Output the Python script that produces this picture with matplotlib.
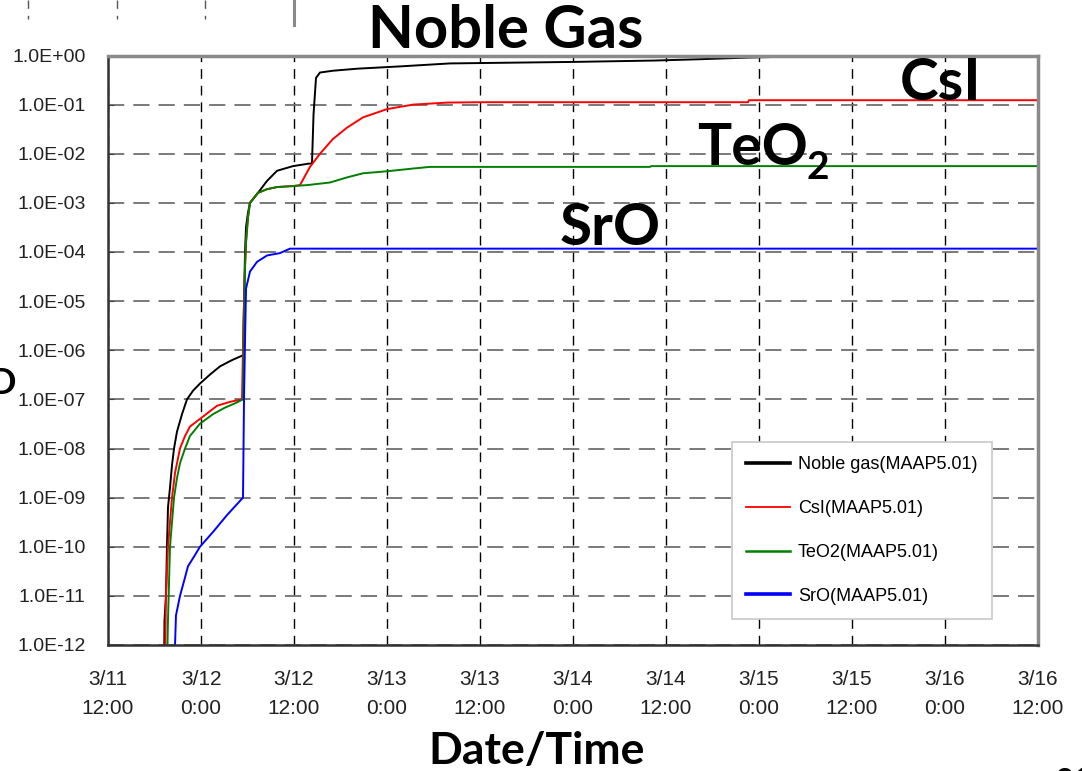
import matplotlib
matplotlib.use("Agg")
import matplotlib.pyplot as plt
import numpy as np
from matplotlib.lines import Line2D
from matplotlib.ticker import FixedLocator, FuncFormatter, NullLocator

# hours elapsed since 3/11 12:00
noble_t = [7.23, 7.29, 7.48, 7.61, 7.74, 8.0, 8.26, 8.52, 8.90, 9.55, 10.19, 10.97,
           11.87, 13.16, 14.45, 16.0, 17.42, 17.55, 17.68, 17.81, 18.06, 18.32, 19.35,
           20.52, 21.81, 23.87, 25.94, 26.32, 26.52, 26.84, 27.35, 29.03, 32.26, 37.68,
           44.13, 60.0, 70.58, 76.39, 82.84, 92.13]
noble_v = [3.2e-13, 3.2e-12, 1e-11, 1e-10, 6.3e-10, 1.6e-9, 4.6e-9, 1e-8, 2.2e-8, 5.0e-8,
           1.0e-7, 1.5e-7, 2.1e-7, 3.2e-7, 4.7e-7, 6.3e-7, 7.9e-7, 1e-5, 1e-4, 3.2e-4,
           6.3e-4, 1e-3, 1.6e-3, 2.8e-3, 4.5e-3, 5.6e-3, 6.3e-3, 6.3e-3, 6.3e-2, 0.35,
           0.45, 0.49, 0.54, 0.60, 0.69, 0.74, 0.79, 0.84, 0.91, 0.98]

csi_t = [7.35, 7.48, 7.74, 8.0, 8.26, 8.65, 9.29, 9.94, 10.58, 11.87, 14.06, 15.74,
         17.29, 17.48, 17.68, 17.81, 18.06, 18.32, 19.35, 20.52, 21.81, 23.87, 24.77,
         26.06, 27.35, 29.03, 30.84, 32.90, 36.0, 39.35, 43.74, 48.0, 82.58, 82.71, 120.0]
csi_v = [3.2e-13, 1e-11, 1e-10, 3.2e-10, 1e-9, 3.2e-9, 1e-8, 1.8e-8, 2.8e-8, 4.0e-8,
         7.4e-8, 8.9e-8, 1e-7, 3.2e-6, 5e-5, 1.6e-4, 5e-4, 1e-3, 1.6e-3, 1.9e-3, 2.1e-3,
         2.2e-3, 2.3e-3, 5.4e-3, 1e-2, 2e-2, 3.4e-2, 5.5e-2, 8.1e-2, 0.1, 0.11, 0.112,
         0.112, 0.123, 0.123]

teo2_t = [7.61, 7.74, 8.0, 8.26, 8.52, 8.90, 9.29, 9.94, 10.58, 11.87, 13.55, 15.10,
          16.39, 17.42, 17.55, 17.68, 17.81, 18.06, 18.32, 19.35, 20.52, 21.81, 23.87,
          25.68, 28.65, 30.84, 32.90, 36.0, 39.35, 41.55, 69.94, 70.06, 120.0]
teo2_v = [3.2e-13, 3.2e-12, 1e-10, 3.2e-10, 1e-9, 2.5e-9, 5e-9, 1e-8, 1.8e-8, 3.2e-8,
          5e-8, 6.8e-8, 8.3e-8, 1e-7, 3.2e-6, 5e-5, 1.6e-4, 5e-4, 1e-3, 1.6e-3, 1.9e-3,
          2.1e-3, 2.2e-3, 2.3e-3, 2.6e-3, 3.3e-3, 4.0e-3, 4.4e-3, 5.0e-3, 5.4e-3,
          5.4e-3, 5.6e-3, 5.6e-3]

sro_t = [8.52, 8.65, 8.77, 9.29, 9.81, 10.32, 11.10, 11.87, 13.55, 15.35, 17.42, 17.55,
         17.68, 17.81, 18.32, 19.23, 20.52, 22.19, 23.48, 120.0]
sro_v = [3.2e-13, 1e-12, 4e-12, 1e-11, 2e-11, 4e-11, 6.3e-11, 1e-10, 2e-10, 4.4e-10,
         1e-9, 1e-7, 1.6e-6, 1.8e-5, 4e-5, 6.3e-5, 8.5e-5, 9.5e-5, 1.17e-4, 1.17e-4]

tick_hours = [0, 12, 24, 36, 48, 60, 72, 84, 96, 108, 120]
tick_labels = ["3/11\n12:00", "3/12\n0:00", "3/12\n12:00", "3/13\n0:00", "3/13\n12:00",
               "3/14\n0:00", "3/14\n12:00", "3/15\n0:00", "3/15\n12:00", "3/16\n0:00",
               "3/16\n12:00"]
y_exponents = list(range(-12, 1))

W, H = 1082, 771
fig = plt.figure(figsize=(W / 100, H / 100), dpi=100)
ax = fig.add_axes([108 / W, 1 - 645 / H, 930 / W, (645 - 55.5) / H])

series = [
    (noble_t, noble_v, "#000000", "Noble gas(MAAP5.01)", 2.6),
    (csi_t, csi_v, "#ff0000", "CsI(MAAP5.01)", 1.3),
    (teo2_t, teo2_v, "#008000", "TeO2(MAAP5.01)", 1.8),
    (sro_t, sro_v, "#0000ff", "SrO(MAAP5.01)", 2.6),
]
for t, v, c, lab, _ in series:
    ax.plot(t, v, color=c, lw=1.4, label=lab, solid_joinstyle="miter")

ax.set_yscale("log")
ax.set_ylim(1e-12, 1.0)
ax.set_xlim(0, 120)

ax.yaxis.set_major_locator(FixedLocator([10.0 ** e for e in y_exponents]))
ax.yaxis.set_minor_locator(NullLocator())
ax.yaxis.set_major_formatter(FuncFormatter(lambda v, p: f"{v:.1E}"))
ax.set_xticks(tick_hours)
ax.set_xticklabels(tick_labels, linespacing=1.7)

ax.tick_params(axis="y", direction="in", length=4, pad=16, labelsize=14,
               labelcolor="#222222", color="#444444")
ax.tick_params(axis="x", direction="in", length=0, pad=18, labelsize=15,
               labelcolor="#222222")
for lbl in ax.get_xticklabels() + ax.get_yticklabels():
    lbl.set_fontfamily("Liberation Sans")

# vertical grid black, horizontal grid gray
ax.xaxis.grid(True, color="black", linestyle=(0, (7, 5)), lw=1.0)
ax.yaxis.grid(True, color="#6f6f6f", linestyle=(0, (9, 5)), lw=1.3)
ax.set_axisbelow(True)

ax.spines["left"].set_color("#333333")
ax.spines["bottom"].set_color("#333333")
ax.spines["left"].set_linewidth(1.8)
ax.spines["bottom"].set_linewidth(1.8)
ax.spines["top"].set_color("#8a8a8a")
ax.spines["right"].set_color("#8a8a8a")
ax.spines["top"].set_linewidth(2.5)
ax.spines["right"].set_linewidth(2.5)

leg = ax.legend(loc="upper left", bbox_to_anchor=(732 / W, 1 - 442 / H),
                bbox_transform=fig.transFigure,
                prop={"family": "Liberation Sans", "size": 13},
                labelspacing=1.48, handlelength=2.4, handletextpad=0.45,
                borderpad=0.8, borderaxespad=0, fancybox=False, framealpha=1,
                edgecolor="#c8c8c8")
leg.get_frame().set_linewidth(1.2)
for line, s in zip(leg.get_lines(), series):
    line.set_linewidth(s[4])

# annotations
bold = dict(family="Lato", weight="bold", color="black")
fig.text(506 / W, 1 - 48 / H, "Noble Gas", ha="center", va="baseline", fontsize=43, **bold)
fig.text(900 / W, 1 - 100 / H, "CsI", ha="left", va="baseline", fontsize=42, **bold)
fig.text(697 / W, 1 - 165 / H, "TeO", ha="left", va="baseline", fontsize=41, **bold)
fig.text(806 / W, 1 - 179 / H, "2", ha="left", va="baseline", fontsize=28, **bold)
fig.text(560 / W, 1 - 245 / H, "SrO", ha="left", va="baseline", fontsize=42, **bold)
fig.text(537 / W, 1 - 764 / H, "Date/Time", ha="center", va="baseline", fontsize=32, **bold)
fig.text(1056 / W, 1 - 790 / H, "21", ha="left", va="baseline", fontsize=22, **bold)
fig.text(-12 / W, 1 - 394 / H, "D", ha="left", va="baseline", fontsize=26, **bold)

# remnants from the slide above
for xp in (28, 117, 205):
    fig.add_artist(Line2D([xp / W, xp / W], [1.0, 1 - 19 / H], transform=fig.transFigure,
                          color="#555555", lw=1.0, linestyle=(0, (6, 5))))
fig.add_artist(Line2D([294 / W, 294 / W], [1.0, 1 - 25 / H], transform=fig.transFigure,
                      color="#8a8a8a", lw=2.2))

fig.savefig("out.png", dpi=100)
